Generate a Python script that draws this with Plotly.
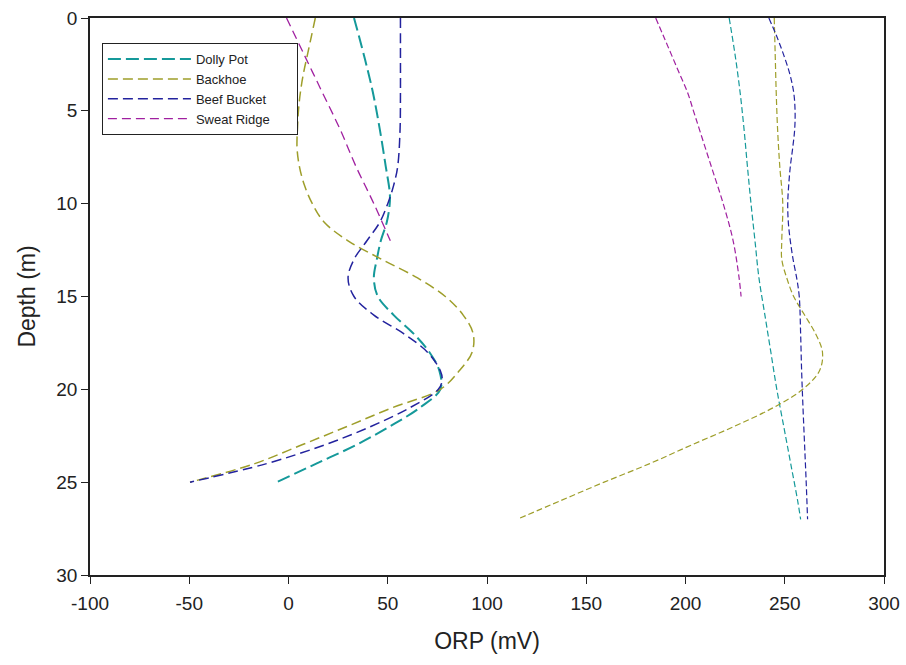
import plotly.graph_objects as go

# ---- Data ----
# Left group (first survey)
dp1_depth = [0, 2, 4, 6, 8, 9.4, 10, 11, 12, 13, 14, 15, 16, 17, 18, 19, 20, 21, 22, 23, 24, 25]
dp1_orp = [33, 38, 42.5, 46, 49, 51, 51, 49.5, 46.5, 44.5, 43, 45, 53, 63, 71, 76, 76.5, 66, 51, 34, 14, -6]

bh1_depth = [0, 1, 2, 3, 4, 5, 6, 7, 8, 9, 10, 11, 12, 13, 14, 15, 16, 17, 18, 19, 20, 21, 22, 23, 24, 25]
bh1_orp = [13.5, 11.5, 9.5, 7.5, 6, 5, 4.5, 4.3, 5.5, 8, 12, 18, 30, 47, 65, 79, 88, 93, 92.5, 86, 76.5, 52, 29.5, 6.5, -17, -49.6]

bb1_depth = [0, 2, 4, 6, 8, 9, 10, 11, 12, 13, 14, 15, 16, 17, 18, 19, 19.5, 20, 21, 22, 23, 24, 25]
bb1_orp = [56.4, 56.4, 56.4, 56.2, 55, 53, 50, 46, 39.5, 33, 30, 33, 43, 58, 70, 76.5, 77.4, 75.5, 61, 41.5, 18, -11, -49.6]

sr1_depth = [0, 2, 4, 6, 8, 10, 12]
sr1_orp = [-1, 8, 17, 26, 34, 43, 51.3]

# Right group (second survey)
dp2_depth = [0, 2, 4, 6, 8, 10, 12, 14, 16, 18, 20, 22, 24, 26, 27]
dp2_orp = [222, 225, 227.5, 229.5, 231.2, 233, 235, 237, 240, 243, 246, 249.5, 253, 256.5, 258]

bh2_depth = [0, 2, 4, 6, 8, 10, 12, 13, 14, 15, 16, 17, 18, 19, 20, 21, 22, 23, 24, 25, 26, 27]
bh2_orp = [244.7, 245.2, 245.7, 246.4, 247.5, 249, 248.5, 248.5, 251, 254.5, 260, 265.5, 269, 267.5, 259, 244, 224.5, 203, 182, 159, 137, 115.2]

bb2_depth = [0, 1, 2, 3, 4, 5, 6, 7, 8, 9, 10, 11, 12, 13, 14, 15, 17, 19, 21, 23, 25, 27]
bb2_orp = [242, 246, 249.5, 252.5, 254.5, 255.2, 255, 254, 252.8, 252, 251.5, 251.8, 252.8, 254.2, 256, 257.3, 258, 258.5, 259.2, 260, 260.8, 261.5]

sr2_depth = [0, 1, 2, 3, 4, 5, 6, 8, 10, 12, 14, 15]
sr2_orp = [185, 189, 193, 197, 201, 204, 207, 213, 219, 224, 227, 228]

x_ticks = [-100, -50, 0, 50, 100, 150, 200, 250, 300]
x_ticktext = ["-100", "-50", "0", "50", "100", "150", "200", "250", "300"]
y_ticks = [0, 5, 10, 15, 20, 25, 30]

names = ["Dolly Pot", "Backhoe", "Beef Bucket", "Sweat Ridge"]
colors = ["#15999a", "#9e9e2a", "#23239e", "#a020a0"]

first = [(dp1_orp, dp1_depth), (bh1_orp, bh1_depth), (bb1_orp, bb1_depth), (sr1_orp, sr1_depth)]
second = [(dp2_orp, dp2_depth), (bh2_orp, bh2_depth), (bb2_orp, bb2_depth), (sr2_orp, sr2_depth)]
first_widths = [2.0, 1.5, 1.5, 1.3]
first_dash = ["13px,5px", "10px,5px", "10px,5px", "9px,5px"]

pad = "\u00a0" * 6

fig = go.Figure()
for i, (name, col) in enumerate(zip(names, colors)):
    x, y = first[i]
    fig.add_trace(go.Scatter(
        x=x, y=y, mode="lines", name=name + pad, legendgroup=name,
        line=dict(color=col, width=first_widths[i], dash=first_dash[i], shape="spline", smoothing=1.0),
    ))
for i, (name, col) in enumerate(zip(names, colors)):
    x, y = second[i]
    fig.add_trace(go.Scatter(
        x=x, y=y, mode="lines", name=name, legendgroup=name, showlegend=False,
        line=dict(color=col, width=1.2, dash="6px,3px", shape="spline", smoothing=1.0),
    ))

font_family = "Arial, Liberation Sans, sans-serif"
fig.update_layout(
    width=906, height=665,
    margin=dict(l=90, r=22, t=18, b=90, autoexpand=False),
    paper_bgcolor="white", plot_bgcolor="white",
    font=dict(family=font_family, color="#222"),
    showlegend=True,
    legend=dict(
        x=0.015, y=0.955, xanchor="left", yanchor="top",
        bgcolor="white", bordercolor="#222", borderwidth=1,
        font=dict(size=13, family=font_family, color="#222"),
        tracegroupgap=0, itemwidth=83,
    ),
    xaxis=dict(
        range=[-100, 300], tickvals=x_ticks, ticktext=x_ticktext, automargin=False,
        showgrid=False, zeroline=False, showline=True, linecolor="#222", linewidth=1.5,
        mirror=True, ticks="outside", ticklen=7, tickcolor="#222", ticklabelstandoff=3,
        tickfont=dict(size=19, color="#222"),
        title=dict(text="ORP (mV)", font=dict(size=23, color="#222"), standoff=20),
    ),
    yaxis=dict(
        range=[30, 0], tickvals=y_ticks, automargin=False,
        showgrid=False, zeroline=False, showline=True, linecolor="#222", linewidth=1.5,
        mirror=True, ticks="outside", ticklen=7, tickcolor="#222",
        tickfont=dict(size=19, color="#222"),
        title=dict(text="Depth (m)", font=dict(size=23, color="#222"), standoff=14),
    ),
)

fig.write_html("out.html")
